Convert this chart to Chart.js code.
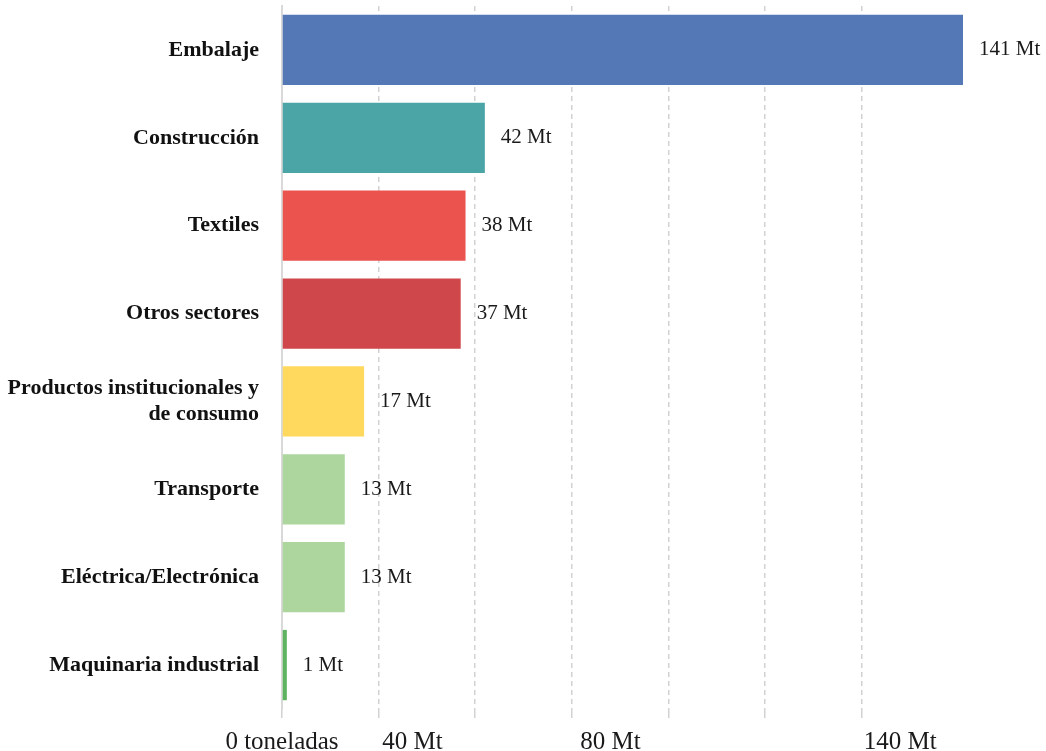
<!DOCTYPE html>
<html>
<head>
<meta charset="utf-8">
<script src="https://cdn.jsdelivr.net/npm/chart.js@4/dist/chart.umd.min.js"></script>
<style>
    html, body { margin: 0; padding: 0; background: #fff; }
    #wrap { width: 1046px; height: 751px; }
</style>
</head>
<body>
<div id="wrap"><canvas id="sectorChart"></canvas></div>
<script>
const sectors = [
    'Embalaje',
    'Construcción',
    'Textiles',
    'Otros sectores',
    ['Productos institucionales y', 'de consumo'],
    'Transporte',
    'Eléctrica/Electrónica',
    'Maquinaria industrial'
];
const tonnes = [141, 42, 38, 37, 17, 13, 13, 1];
const valueLabels = ['141 Mt', '42 Mt', '38 Mt', '37 Mt', '17 Mt', '13 Mt', '13 Mt', '1 Mt'];
const barColors = [
    'rgba(76, 114, 178, 0.96)',
    'rgba(68, 160, 162, 0.96)',
    'rgba(234, 76, 72, 0.96)',
    'rgba(206, 64, 68, 0.96)',
    'rgba(255, 215, 86, 0.96)',
    'rgba(170, 211, 154, 0.96)',
    'rgba(170, 211, 154, 0.96)',
    'rgba(86, 176, 90, 0.96)'
];
const axisLabels = ['0 toneladas', '40 Mt', '80 Mt', '140 Mt'];
const axisLabelAt = [0, 27, 68, 128];

const serif = '"Liberation Serif", "Times New Roman", serif';

// value text just right of each bar
const barValuePlugin = {
    id: 'barValues',
    afterDatasetsDraw(chart) {
        const ctx = chart.ctx;
        const meta = chart.getDatasetMeta(0);
        ctx.save();
        ctx.font = '21px ' + serif;
        ctx.fillStyle = '#1a1a1a';
        ctx.textAlign = 'left';
        ctx.textBaseline = 'middle';
        meta.data.forEach((bar, i) => {
            ctx.fillText(valueLabels[i], bar.x + 16, bar.y);
        });
        ctx.restore();
    }
};

new Chart(document.getElementById('sectorChart'), {
    type: 'bar',
    data: {
        labels: sectors,
        datasets: [{
            data: tonnes,
            backgroundColor: barColors,
            borderWidth: 0,
            barPercentage: 0.8,
            categoryPercentage: 1
        }]
    },
    options: {
        indexAxis: 'y',
        responsive: true,
        maintainAspectRatio: false,
        animation: false,
        layout: {
            padding: { top: 6, right: 83, left: 0, bottom: 0 }
        },
        plugins: {
            legend: { display: false },
            tooltip: { enabled: false }
        },
        scales: {
            x: {
                min: 0,
                max: 141,
                position: 'bottom',
                weight: 0,
                afterBuildTicks: (axis) => {
                    axis.ticks = axis.ticks.filter(t => t.value % 20 === 0);
                },
                afterFit: (axis) => {
                    axis.height = 9;
                },
                ticks: { stepSize: 20, display: false },
                grid: {
                    color: '#d2d2d2',
                    lineWidth: 1.5,
                    drawTicks: true,
                    tickLength: 9
                },
                border: { display: false, dash: [5, 4] }
            },
            x2: {
                min: 0,
                max: 141,
                position: 'bottom',
                weight: 1,
                afterBuildTicks: (axis) => {
                    axis.ticks = axisLabelAt.map(v => ({ value: v }));
                },
                afterFit: (axis) => {
                    axis.height = 33;
                    axis.paddingLeft = 0;
                    axis.paddingRight = 0;
                },
                ticks: {
                    autoSkip: false,
                    maxRotation: 0,
                    padding: 12,
                    color: '#1a1a1a',
                    font: { family: serif, size: 25, lineHeight: 1 },
                    callback: (value, index) => axisLabels[index]
                },
                grid: { display: false, drawTicks: false },
                border: { display: false }
            },
            y: {
                afterFit: (axis) => {
                    axis.width = 282;
                    axis.paddingTop = 0;
                    axis.paddingBottom = 0;
                },
                ticks: {
                    padding: 23,
                    color: '#111',
                    font: { family: serif, size: 22, weight: 'bold', lineHeight: 1.15 }
                },
                grid: { display: false, drawTicks: false },
                border: { display: true, color: '#d9d9d9', width: 2 }
            }
        }
    },
    plugins: [barValuePlugin]
});
</script>
</body>
</html>
